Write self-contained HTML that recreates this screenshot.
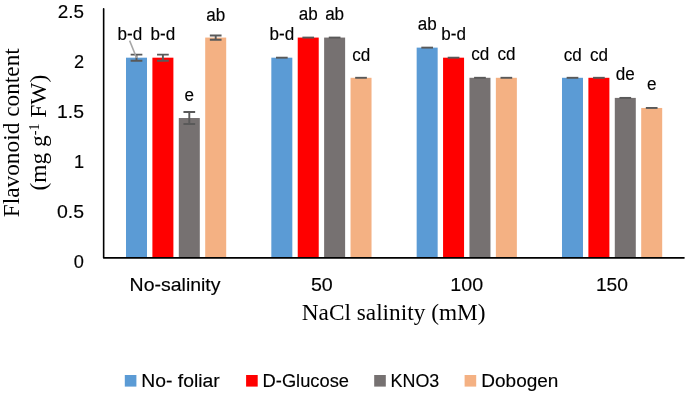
<!DOCTYPE html>
<html><head><meta charset="utf-8">
<style>
html,body{margin:0;padding:0;background:#fff;overflow:hidden;}
svg{display:block;will-change:transform;}
text{fill:#000;}
.s{stroke:#000;stroke-width:0.15px;}
</style></head><body>
<svg width="685" height="393" viewBox="0 0 685 393">
<rect x="126.00" y="57.68" width="21.0" height="200.32" fill="#5B9BD5"/>
<rect x="152.40" y="57.68" width="21.0" height="200.32" fill="#FF0000"/>
<rect x="178.80" y="118.02" width="21.0" height="139.98" fill="#767171"/>
<rect x="205.20" y="37.57" width="21.0" height="220.43" fill="#F4B183"/>
<rect x="271.33" y="57.68" width="21.0" height="200.32" fill="#5B9BD5"/>
<rect x="297.73" y="37.57" width="21.0" height="220.43" fill="#FF0000"/>
<rect x="324.13" y="37.57" width="21.0" height="220.43" fill="#767171"/>
<rect x="350.53" y="77.79" width="21.0" height="180.21" fill="#F4B183"/>
<rect x="416.66" y="47.62" width="21.0" height="210.38" fill="#5B9BD5"/>
<rect x="443.06" y="57.68" width="21.0" height="200.32" fill="#FF0000"/>
<rect x="469.46" y="77.79" width="21.0" height="180.21" fill="#767171"/>
<rect x="495.86" y="77.79" width="21.0" height="180.21" fill="#F4B183"/>
<rect x="561.99" y="77.79" width="21.0" height="180.21" fill="#5B9BD5"/>
<rect x="588.39" y="77.79" width="21.0" height="180.21" fill="#FF0000"/>
<rect x="614.79" y="97.90" width="21.0" height="160.10" fill="#767171"/>
<rect x="641.19" y="107.96" width="21.0" height="150.04" fill="#F4B183"/>
<path d="M136.50,54.66V60.70M130.65,54.66h11.7M130.65,60.70h11.7" stroke="#595959" stroke-width="1.9" fill="none"/>
<path d="M162.90,54.66V60.70M157.05,54.66h11.7M157.05,60.70h11.7" stroke="#595959" stroke-width="1.9" fill="none"/>
<path d="M189.30,111.98V124.05M183.45,111.98h11.7M183.45,124.05h11.7" stroke="#595959" stroke-width="1.9" fill="none"/>
<path d="M215.70,35.46V39.68M209.85,35.46h11.7M209.85,39.68h11.7" stroke="#595959" stroke-width="1.9" fill="none"/>
<path d="M275.98,57.68h11.7" stroke="#595959" stroke-width="1.9" fill="none"/>
<path d="M302.38,37.57h11.7" stroke="#595959" stroke-width="1.9" fill="none"/>
<path d="M328.78,37.57h11.7" stroke="#595959" stroke-width="1.9" fill="none"/>
<path d="M355.18,77.79h11.7" stroke="#595959" stroke-width="1.9" fill="none"/>
<path d="M421.31,47.62h11.7" stroke="#595959" stroke-width="1.9" fill="none"/>
<path d="M447.71,57.68h11.7" stroke="#595959" stroke-width="1.9" fill="none"/>
<path d="M474.11,77.79h11.7" stroke="#595959" stroke-width="1.9" fill="none"/>
<path d="M500.51,77.79h11.7" stroke="#595959" stroke-width="1.9" fill="none"/>
<path d="M566.64,77.79h11.7" stroke="#595959" stroke-width="1.9" fill="none"/>
<path d="M593.04,77.79h11.7" stroke="#595959" stroke-width="1.9" fill="none"/>
<path d="M619.44,97.90h11.7" stroke="#595959" stroke-width="1.9" fill="none"/>
<path d="M645.84,107.96h11.7" stroke="#595959" stroke-width="1.9" fill="none"/>
<path d="M129.6,40.6L136.6,57.9" stroke="#A6A6A6" stroke-width="1.5" fill="none"/>
<text class="s" x="117.61" y="40.00" font-family='"Liberation Sans",sans-serif' font-size="17.6" textLength="24.67" lengthAdjust="spacingAndGlyphs">b-d</text>
<text class="s" x="150.56" y="40.00" font-family='"Liberation Sans",sans-serif' font-size="17.6" textLength="24.67" lengthAdjust="spacingAndGlyphs">b-d</text>
<text class="s" x="184.57" y="101.00" font-family='"Liberation Sans",sans-serif' font-size="17.6" textLength="9.49" lengthAdjust="spacingAndGlyphs">e</text>
<text class="s" x="206.20" y="21.00" font-family='"Liberation Sans",sans-serif' font-size="17.6" textLength="18.99" lengthAdjust="spacingAndGlyphs">ab</text>
<text class="s" x="269.49" y="40.00" font-family='"Liberation Sans",sans-serif' font-size="17.6" textLength="24.67" lengthAdjust="spacingAndGlyphs">b-d</text>
<text class="s" x="298.73" y="20.00" font-family='"Liberation Sans",sans-serif' font-size="17.6" textLength="18.99" lengthAdjust="spacingAndGlyphs">ab</text>
<text class="s" x="325.13" y="20.00" font-family='"Liberation Sans",sans-serif' font-size="17.6" textLength="18.99" lengthAdjust="spacingAndGlyphs">ab</text>
<text class="s" x="352.20" y="61.00" font-family='"Liberation Sans",sans-serif' font-size="17.6" textLength="18.03" lengthAdjust="spacingAndGlyphs">cd</text>
<text class="s" x="417.66" y="30.00" font-family='"Liberation Sans",sans-serif' font-size="17.6" textLength="18.99" lengthAdjust="spacingAndGlyphs">ab</text>
<text class="s" x="441.22" y="40.00" font-family='"Liberation Sans",sans-serif' font-size="17.6" textLength="24.67" lengthAdjust="spacingAndGlyphs">b-d</text>
<text class="s" x="471.13" y="60.00" font-family='"Liberation Sans",sans-serif' font-size="17.6" textLength="18.03" lengthAdjust="spacingAndGlyphs">cd</text>
<text class="s" x="497.53" y="60.00" font-family='"Liberation Sans",sans-serif' font-size="17.6" textLength="18.03" lengthAdjust="spacingAndGlyphs">cd</text>
<text class="s" x="563.66" y="61.00" font-family='"Liberation Sans",sans-serif' font-size="17.6" textLength="18.03" lengthAdjust="spacingAndGlyphs">cd</text>
<text class="s" x="590.06" y="61.00" font-family='"Liberation Sans",sans-serif' font-size="17.6" textLength="18.03" lengthAdjust="spacingAndGlyphs">cd</text>
<text class="s" x="615.82" y="80.00" font-family='"Liberation Sans",sans-serif' font-size="17.6" textLength="18.99" lengthAdjust="spacingAndGlyphs">de</text>
<text class="s" x="646.96" y="90.00" font-family='"Liberation Sans",sans-serif' font-size="17.6" textLength="9.49" lengthAdjust="spacingAndGlyphs">e</text>
<path d="M103.65,8.7V257.9H684" stroke="#000" stroke-width="1.6" fill="none" stroke-linejoin="round" stroke-linecap="round"/>
<text class="s" x="73.79" y="268.00" font-family='"Liberation Sans",sans-serif' font-size="18.2">0</text>
<text class="s" x="56.94" y="217.95" font-family='"Liberation Sans",sans-serif' font-size="18.2" textLength="27.08" lengthAdjust="spacingAndGlyphs">0.5</text>
<text class="s" x="73.97" y="167.90" font-family='"Liberation Sans",sans-serif' font-size="18.2">1</text>
<text class="s" x="57.02" y="117.85" font-family='"Liberation Sans",sans-serif' font-size="18.2" textLength="26.99" lengthAdjust="spacingAndGlyphs">1.5</text>
<text class="s" x="73.99" y="67.80" font-family='"Liberation Sans",sans-serif' font-size="18.2">2</text>
<text class="s" x="57.75" y="17.75" font-family='"Liberation Sans",sans-serif' font-size="18.2" textLength="26.24" lengthAdjust="spacingAndGlyphs">2.5</text>
<text class="s" x="129.60" y="290.50" font-family='"Liberation Sans",sans-serif' font-size="18.2" textLength="90.94" lengthAdjust="spacingAndGlyphs">No-salinity</text>
<text class="s" x="310.91" y="290.50" font-family='"Liberation Sans",sans-serif' font-size="18.2" textLength="21.85" lengthAdjust="spacingAndGlyphs">50</text>
<text class="s" x="450.30" y="290.50" font-family='"Liberation Sans",sans-serif' font-size="18.2" textLength="32.76" lengthAdjust="spacingAndGlyphs">100</text>
<text class="s" x="595.93" y="290.50" font-family='"Liberation Sans",sans-serif' font-size="18.2" textLength="32.12" lengthAdjust="spacingAndGlyphs">150</text>
<text x="301.73" y="320.10" font-family='"Liberation Serif",serif' font-size="23.3">NaCl salinity (mM)</text>
<text transform="translate(19.0,217.27) rotate(-90)" font-family='"Liberation Serif",serif' font-size="23.3" textLength="169.11" lengthAdjust="spacingAndGlyphs">Flavonoid content</text>
<text transform="translate(45.6,190.55) rotate(-90)" font-family='"Liberation Serif",serif' font-size="23.45">(mg g<tspan dy="-7" font-size="14">-1</tspan><tspan dy="7"> FW)</tspan></text>
<rect x="124.8" y="375" width="11.6" height="11.6" fill="#5B9BD5"/>
<text class="s" x="141.31" y="386.80" font-family='"Liberation Sans",sans-serif' font-size="18.8" textLength="78.41" lengthAdjust="spacingAndGlyphs">No- foliar</text>
<rect x="246.1" y="375" width="11.6" height="11.6" fill="#FF0000"/>
<text class="s" x="262.60" y="386.80" font-family='"Liberation Sans",sans-serif' font-size="18.8" textLength="86.41" lengthAdjust="spacingAndGlyphs">D-Glucose</text>
<rect x="374.2" y="375" width="11.6" height="11.6" fill="#767171"/>
<text class="s" x="390.53" y="386.80" font-family='"Liberation Sans",sans-serif' font-size="18.8" textLength="48.76" lengthAdjust="spacingAndGlyphs">KNO3</text>
<rect x="464.6" y="375" width="11.6" height="11.6" fill="#F4B183"/>
<text class="s" x="481.34" y="386.80" font-family='"Liberation Sans",sans-serif' font-size="18.8" textLength="77.09" lengthAdjust="spacingAndGlyphs">Dobogen</text>
</svg>
</body></html>
